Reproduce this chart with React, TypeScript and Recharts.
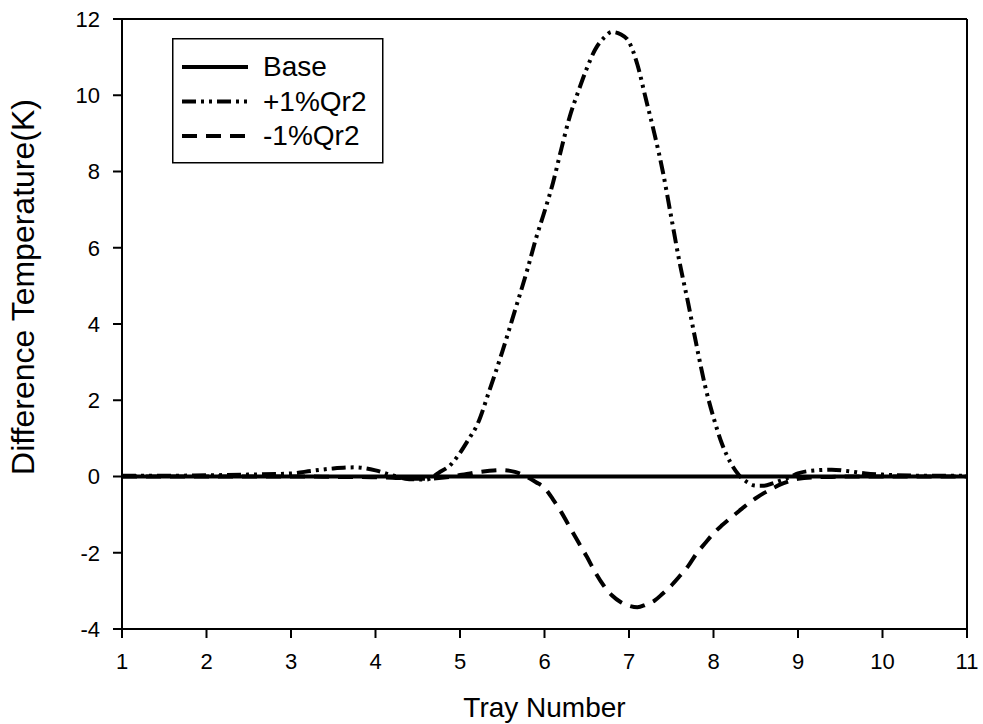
import { Line, LineChart, ReferenceLine, XAxis, YAxis } from 'recharts';

// Tray positions and temperature differences (K).
const trays = [
  1, 1.5, 2, 2.5, 3, 3.25, 3.5, 3.75, 4, 4.2, 4.4, 4.6, 4.75, 4.9, 5, 5.1, 5.2, 5.35, 5.5, 5.65,
  5.8, 5.9, 6, 6.1, 6.2, 6.3, 6.4, 6.5, 6.6, 6.7, 6.8, 6.9, 7, 7.1, 7.2, 7.3, 7.4, 7.5, 7.6, 7.7,
  7.8, 7.9, 8, 8.1, 8.2, 8.3, 8.4, 8.5, 8.6, 8.7, 8.8, 8.9, 9, 9.2, 9.4, 9.6, 9.8, 10, 10.5, 11,
];

const base = trays.map(() => 0);

const plusQr2 = [
  0.02, 0.02, 0.03, 0.05, 0.08, 0.15, 0.21, 0.24, 0.16, 0.03, -0.07, -0.08, 0.1, 0.33, 0.62, 0.97,
  1.34, 2.27, 3.27, 4.35, 5.45, 6.25, 6.95, 7.7, 8.6, 9.45, 10.1, 10.7, 11.2, 11.5, 11.66, 11.6,
  11.4, 10.8, 9.9, 9.0, 8.0, 6.8, 5.6, 4.55, 3.43, 2.38, 1.55, 0.86, 0.37, 0.04, -0.15, -0.24,
  -0.24, -0.18, -0.1, -0.02, 0.08, 0.16, 0.18, 0.14, 0.08, 0.05, 0.02, 0.02,
];

const minusQr2 = [
  0, 0, 0, 0, 0, 0, -0.01, -0.01, -0.02, -0.03, -0.05, -0.06, -0.04, 0, 0.04, 0.07, 0.11, 0.15,
  0.17, 0.12, -0.02, -0.15, -0.3, -0.6, -0.94, -1.33, -1.72, -2.1, -2.51, -2.86, -3.12, -3.29,
  -3.39, -3.43, -3.36, -3.26, -3.07, -2.86, -2.61, -2.35, -2.02, -1.75, -1.49, -1.28, -1.09, -0.91,
  -0.73, -0.57, -0.43, -0.31, -0.2, -0.12, -0.06, -0.02, -0.01, 0, 0, 0, 0, 0,
];

const xTicks = [1, 2, 3, 4, 5, 6, 7, 8, 9, 10, 11];
const yTicks = [-4, -2, 0, 2, 4, 6, 8, 10, 12];

const rows = trays.map((tray, i) => ({
  tray,
  base: base[i],
  plus: plusQr2[i],
  minus: minusQr2[i],
}));

const FONT = '"Liberation Sans", Arial, sans-serif';
const DASH_DOT_DOT = '14 5 3 5 3 5';
const DASHED = '15 9';

const series = [
  { key: 'base', name: 'Base', dash: undefined as string | undefined },
  { key: 'plus', name: '+1%Qr2', dash: DASH_DOT_DOT },
  { key: 'minus', name: '-1%Qr2', dash: DASHED },
];

// Legend sits inside the plot frame, so it is drawn as an overlay instead of
// Recharts' Legend (which would shrink the plot area).
function LegendBox() {
  return (
    <svg
      width={212}
      height={126}
      style={{ position: 'absolute', left: 172, top: 38, display: 'block' }}
    >
      <rect x={0.75} y={0.75} width={210} height={124} fill="#fff" stroke="#000" strokeWidth={1.5} />
      {series.map((s, i) => {
        const cy = 29 + i * 34.5;
        return (
          <g key={s.key}>
            <line x1={10} x2={76} y1={cy} y2={cy} stroke="#000" strokeWidth={4} strokeDasharray={s.dash} />
            <text x={91} y={cy + 9} fontSize={28} fontFamily={FONT} fill="#000">
              {s.name}
            </text>
          </g>
        );
      })}
    </svg>
  );
}

export default function App() {
  return (
    <div style={{ position: 'absolute', left: 0, top: 0, background: '#fff' }}>
      <LineChart
        width={983}
        height={724}
        data={rows}
        margin={{ top: 19, right: 16, bottom: 0, left: 62 }}
      >
        <XAxis
          dataKey="tray"
          type="number"
          domain={[1, 11]}
          ticks={xTicks}
          height={95}
          tickSize={9}
          tickMargin={15}
          stroke="#000"
          strokeWidth={2}
          tick={{ fill: '#000', fontSize: 22, fontFamily: FONT }}
          label={{
            value: 'Tray Number',
            position: 'insideBottom',
            offset: 7,
            fill: '#000',
            fontSize: 28,
            fontFamily: FONT,
          }}
        />
        <YAxis
          type="number"
          domain={[-4, 12]}
          ticks={yTicks}
          width={60}
          tickSize={9}
          tickMargin={13}
          stroke="#000"
          strokeWidth={2}
          tick={{ fill: '#000', fontSize: 22, fontFamily: FONT }}
          label={{
            content: () => (
              <text
                x={34}
                y={287}
                transform="rotate(-90 34 287)"
                textAnchor="middle"
                fontSize={32}
                fontFamily={FONT}
                fill="#000"
              >
                Difference Temperature(K)
              </text>
            ),
          }}
        />
        <ReferenceLine y={12} stroke="#000" strokeWidth={2} />
        <ReferenceLine x={11} stroke="#000" strokeWidth={2} />
        {series.map((s) => (
          <Line
            key={s.key}
            dataKey={s.key}
            name={s.name}
            type="monotone"
            stroke="#000"
            strokeWidth={4}
            strokeDasharray={s.dash}
            dot={false}
            isAnimationActive={false}
          />
        ))}
      </LineChart>
      <LegendBox />
    </div>
  );
}
